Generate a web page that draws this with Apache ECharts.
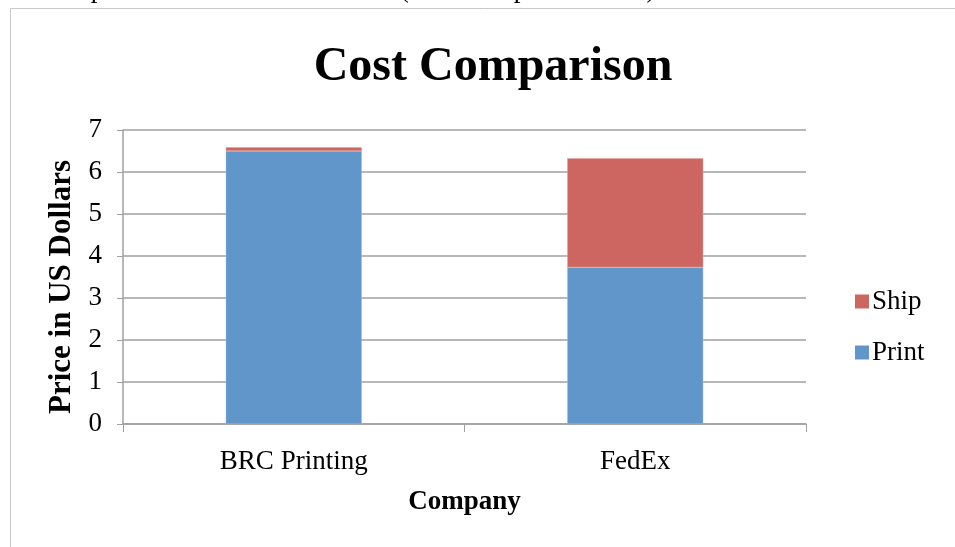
<!DOCTYPE html>
<html>
<head>
<meta charset="utf-8">
<script src="https://cdn.jsdelivr.net/npm/echarts@6/dist/echarts.min.js"></script>
<style>
html,body{margin:0;padding:0;background:#fff;}
#main{width:955px;height:547px;}
</style>
</head>
<body>
<div id="main"></div>
<script>
const categories = ['BRC Printing', 'FedEx'];
const printValues = [6.5, 3.73];
const shipValues = [0.09, 2.6];
const yTicks = [0, 1, 2, 3, 4, 5, 6, 7];

const serif = '"Liberation Serif", "DejaVu Serif", serif';
const chart = echarts.init(document.getElementById('main'));
chart.setOption({
  animation: false,
  backgroundColor: '#fff',
  title: {
    text: 'Cost Comparison',
    left: 488, top: 39, textAlign: 'center',
    textStyle: { fontFamily: serif, fontSize: 48, fontWeight: 'bold', color: '#000' }
  },
  graphic: [
    { type: 'rect', shape: { x: 10.5, y: 8.5, width: 960, height: 560 }, style: { fill: 'none', stroke: '#c8c8c8', lineWidth: 1 }, silent: true },
    { type: 'text', x: 0, y: 3, style: { text: 'ost Comparison of the sets to format (total cost per book/set).', font: '27px ' + serif, fill: '#000', verticalAlign: 'bottom' }, silent: true }
  ],
  legend: {
    orient: 'vertical',
    left: 855, top: 288, padding: 0,
    data: ['Ship', 'Print'],
    icon: 'rect', itemWidth: 14, itemHeight: 14, itemGap: 24,
    itemStyle: { borderWidth: 0 },
    textStyle: { fontFamily: serif, fontSize: 27, color: '#000', padding: [0, 0, 0, -2] }
  },
  grid: { left: 123, right: 149, top: 130, bottom: 123 },
  xAxis: {
    type: 'category',
    data: categories,
    name: 'Company', nameLocation: 'middle', nameGap: 65,
    nameTextStyle: { fontFamily: serif, fontSize: 27, fontWeight: 'bold', color: '#000' },
    axisLine: { lineStyle: { color: '#a0a0a0', width: 1.5 } },
    axisTick: { show: true, length: 8, lineStyle: { color: '#a0a0a0' } },
    axisLabel: { fontFamily: serif, fontSize: 27, color: '#000', margin: 24 }
  },
  yAxis: {
    type: 'value', min: yTicks[0], max: yTicks[yTicks.length - 1], interval: 1,
    name: 'Price in US Dollars', nameLocation: 'middle', nameGap: 42, nameRotate: 90,
    nameTextStyle: { fontFamily: serif, fontSize: 31, fontWeight: 'bold', color: '#000', padding: [0, 20, 0, 0] },
    axisLine: { show: true, lineStyle: { color: '#a0a0a0', width: 1.5 } },
    axisTick: { show: true, length: 6, lineStyle: { color: '#a0a0a0' } },
    axisLabel: { fontFamily: serif, fontSize: 27, color: '#000', margin: 21 },
    splitLine: { lineStyle: { color: '#a0a0a0', width: 1.5 } }
  },
  series: [
    { name: 'Print', type: 'bar', stack: 'total', data: printValues, barWidth: 136,
      itemStyle: { color: '#6096C9', borderColor: '#9cbde0', borderWidth: 0.5 } },
    { name: 'Ship', type: 'bar', stack: 'total', data: shipValues, barWidth: 136,
      itemStyle: { color: '#CD6660', borderColor: '#e3a29e', borderWidth: 0.5 } }
  ]
});
</script>
</body>
</html>
